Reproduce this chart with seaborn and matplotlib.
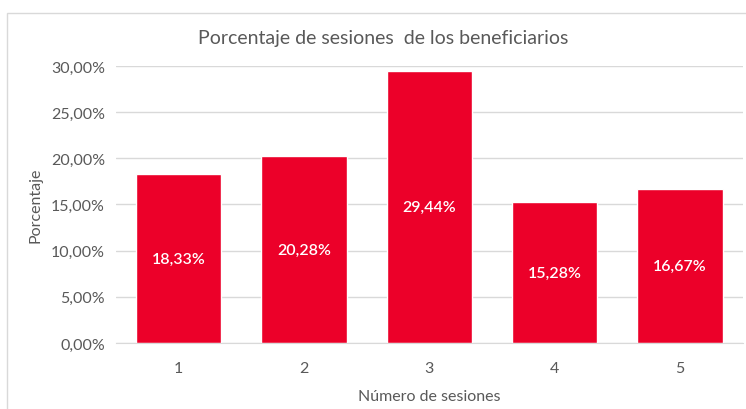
import matplotlib.pyplot as plt
import matplotlib.ticker as mticker
import numpy as np
import pandas as pd
import seaborn as sns
from matplotlib.patches import Rectangle

# --- Daten ---
sesiones = ["1", "2", "3", "4", "5"]
porcentaje = [18.33, 20.28, 29.44, 15.28, 16.67]
y_ticks = [0, 5, 10, 15, 20, 25, 30]

df = pd.DataFrame({"sesiones": sesiones, "porcentaje": porcentaje})

sns.set_style("white")
plt.rcParams["font.family"] = ["Lato", "DejaVu Sans"]

text_color = "#595959"
grid_color = "#d9d9d9"
bar_color = "#ec0029"

fig = plt.figure(figsize=(7.46, 4.10), dpi=100)
ax = fig.add_axes([0.1555, 0.161, 0.84, 0.6756])

sns.barplot(data=df, x="sesiones", y="porcentaje", color=bar_color,
            width=0.68, saturation=1, ax=ax)

# Werte in die Balken schreiben
for i, v in enumerate(porcentaje):
    ax.text(i, v / 2, f"{v:.2f}%".replace(".", ","), ha="center", va="center",
            color="white", fontsize=11.5, fontweight="semibold")

ax.set_ylim(0, 30)
ax.set_xlim(-0.5, 4.5)
ax.set_yticks(y_ticks)
ax.yaxis.set_major_formatter(mticker.FuncFormatter(lambda v, p: f"{v:.2f}%".replace(".", ",")))
ax.grid(axis="y", color=grid_color, linewidth=1)
ax.set_axisbelow(True)

for s in ["top", "right", "left"]:
    ax.spines[s].set_visible(False)
ax.spines["bottom"].set_color(grid_color)

ax.tick_params(axis="both", length=0, labelsize=11.5, colors=text_color, pad=8)
ax.tick_params(axis="x", pad=13)
ax.set_xticks(np.arange(-0.5, 5, 1), minor=True)
ax.tick_params(axis="x", which="minor", length=5, color=grid_color, direction="out")

ax.set_xlabel("Número de sesiones", fontsize=11.5, color=text_color, labelpad=10)
ax.set_ylabel("Porcentaje", fontsize=11.5, color=text_color, labelpad=6)
fig.text(0.513, 0.905, "Porcentaje de sesiones  de los beneficiarios", ha="center",
         va="center", fontsize=14, color=text_color)

# Rahmen um das Diagramm
fig.patches.append(Rectangle((7 / 746, -0.01), 1.0, 1 - 14 / 410 + 0.01,
                             transform=fig.transFigure, fill=False,
                             edgecolor=grid_color, linewidth=1))

fig.savefig("out.png", dpi=100)
